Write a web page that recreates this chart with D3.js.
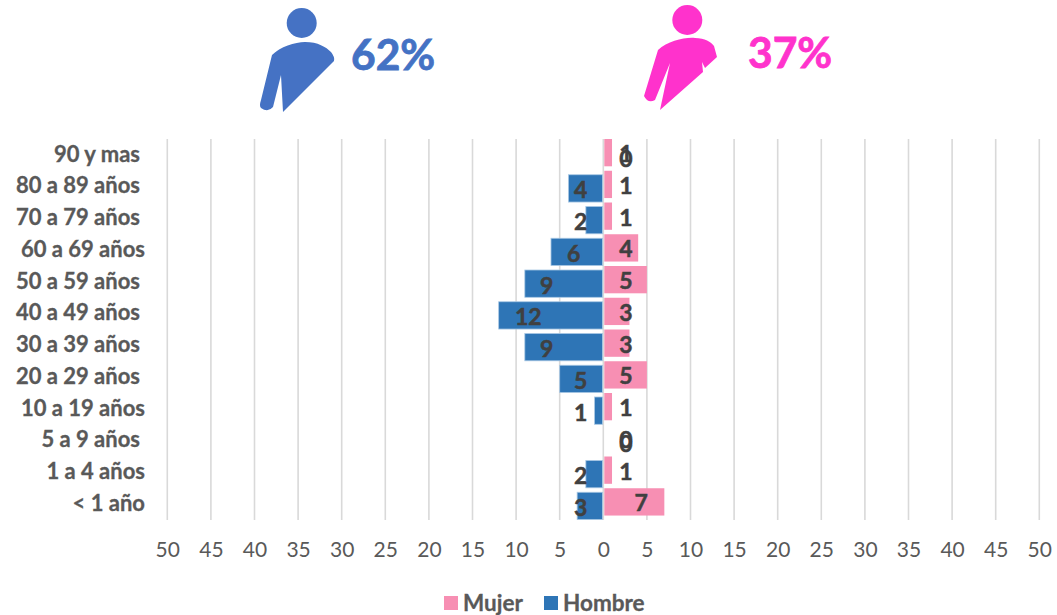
<!DOCTYPE html>
<html lang="en">
<head>
<meta charset="UTF-8">
<title>Piramide</title>
<script src="https://d3js.org/d3.v7.min.js"></script>
<style>
    html, body { margin: 0; background: #fff; }
    text { font-family: Lato, "Open Sans", sans-serif; }
</style>
</head>
<body>
<script>

// trailing space in a category = label sits further left, same as the source sheet
const categories = ['90 y mas ', '80 a 89 años ', '70 a 79 años ', '60 a 69 años', '50 a 59 años ', '40 a 49 años ',
    '30 a 39 años ', '20 a 29 años ', '10 a 19 años', '5 a 9 años ', '1 a 4 años', '< 1 año'];
const hombre = [0, 4, 2, 6, 9, 12, 9, 5, 1, 0, 2, 3];
const mujer = [1, 1, 1, 4, 5, 3, 3, 5, 1, 0, 1, 7];
const axisTicks = d3.range(-50, 51, 5);
const seriesNames = ['Mujer', 'Hombre'];
const shareHombre = '62%';
const shareMujer = '37%';

const blue = '#2e75b6', pink = '#f78fb3', inkLabel = '#404040', inkAxis = '#595959';

const svg = d3.select('body').append('svg').attr('width', 1057).attr('height', 615).style('display', 'block');

const x = d3.scaleLinear().domain([-50, 50]).range([167.3, 1039.3]);
const y = d3.scaleBand().domain(categories).range([139, 520]);
const seriesOffset = d3.scaleOrdinal().domain(seriesNames).range([0, 4]);
const barH = 27.3;

const defs = svg.append('defs');
defs.append('filter').attr('id', 'soft').append('feGaussianBlur').attr('stdDeviation', 0.6);

// gridlines
svg.append('g').selectAll('line')
    .data(axisTicks)
    .enter()
    .append('line')
    .attr('x1', d => x(d)).attr('x2', d => x(d))
    .attr('y1', 139).attr('y2', 520)
    .style('stroke', '#d9d9d9')
    .style('stroke-width', '1.6px');

// bars
const rows = categories.map((c, i) => ({ c, h: hombre[i], m: mujer[i] }));

svg.append('g').selectAll('rect')
    .data(rows.filter(d => d.h > 0))
    .enter()
    .append('rect')
    .attr('x', d => x(-d.h))
    .attr('y', d => y(d.c) + seriesOffset('Hombre'))
    .attr('width', d => x(0) - x(-d.h) - 0.8)
    .attr('height', barH)
    .style('fill', blue)
    .style('stroke', '#a9c8e4')
    .style('stroke-width', '0.8px');

svg.append('g').selectAll('rect')
    .data(rows.filter(d => d.m > 0))
    .enter()
    .append('rect')
    .attr('x', x(0) + 1)
    .attr('y', d => y(d.c) + seriesOffset('Mujer'))
    .attr('width', d => x(d.m) - x(0) - 1)
    .attr('height', barH)
    .style('fill', pink);

// data labels: small bars get a fixed spot next to the axis, the long ones were dragged by hand
const labelAnchor = new Map([[6, 3.4], [7, 4.35], [9, 6.5], [12, 8.6]]);
const anchorOf = v => labelAnchor.get(v) || 2.6;

const labels = svg.append('g')
    .style('font-size', '23px')
    .style('font-weight', 700)
    .style('fill', inkLabel)
    .style('stroke', inkLabel)
    .style('stroke-width', '0.5px')
    .attr('text-anchor', 'middle');

labels.selectAll('.lh')
    .data(rows)
    .enter()
    .append('text')
    .attr('class', 'lh')
    .attr('x', d => d.h === 0 ? x(anchorOf(0)) : x(-anchorOf(d.h)))
    .attr('y', d => y(d.c) + seriesOffset('Hombre') + barH / 2 + 10)
    .text(d => d.h);

labels.selectAll('.lm')
    .data(rows)
    .enter()
    .append('text')
    .attr('class', 'lm')
    .attr('x', d => x(anchorOf(d.m)))
    .attr('y', d => y(d.c) + seriesOffset('Mujer') + barH / 2 + 9.5)
    .text(d => d.m);

// category labels
svg.append('g').selectAll('text')
    .data(categories)
    .enter()
    .append('text')
    .attr('x', d => d.endsWith(' ') ? 140 : 145)
    .attr('y', d => y(d) + 22.5)
    .attr('text-anchor', 'end')
    .style('font-size', '22px')
    .style('font-weight', 700)
    .style('fill', inkAxis)
    .style('stroke', inkAxis)
    .style('stroke-width', '0.3px')
    .text(d => d.trim());

// bottom axis
const axis = svg.append('g')
    .attr('transform', 'translate(0,539)')
    .call(d3.axisBottom(x).tickValues(axisTicks).tickSize(0).tickFormat(d => Math.abs(d)));
axis.select('.domain').remove();
axis.selectAll('text')
    .style('font-family', 'Lato, "Open Sans", sans-serif')
    .style('font-size', '21px')
    .style('fill', inkAxis);

// legend
const legendX = d3.scaleOrdinal().domain(seriesNames).range([444, 544]);
const legend = svg.append('g').selectAll('g')
    .data(seriesNames)
    .enter()
    .append('g')
    .attr('transform', d => `translate(${legendX(d)},596)`);
legend.append('rect')
    .attr('width', 14).attr('height', 14)
    .style('fill', d => d === 'Mujer' ? pink : blue);
legend.append('text')
    .attr('x', 19).attr('y', 14.5)
    .style('font-size', '22.5px')
    .style('font-weight', 700)
    .style('fill', inkAxis)
    .style('stroke', inkAxis)
    .style('stroke-width', '0.3px')
    .text(d => d);

// person icons
const manBody = 'M272,55 C280,47 295,42 305,42 C318,42 326,47 331,52 Q335,57 334,61 L283,112 L281,75 L273,107 Q268,113 261,108 Q259,106 261,100 Z';
const womanBody = 'M658,50 C668,41 685,37 695,38 C705,38 711,42 714,46 L717,57 L705,68 L702,62 L703,72 L660,110 L670,63 L655,100 Q648,104 644,96 Z';

const blueIcon = svg.append('g').attr('filter', 'url(#soft)').style('fill', '#4472c4');
blueIcon.append('circle').attr('cx', 301.7).attr('cy', 23).attr('r', 15);
blueIcon.append('path').attr('d', manBody);

const pinkIcon = svg.append('g').attr('filter', 'url(#soft)').style('fill', '#ff33cc');
pinkIcon.append('circle').attr('cx', 687.3).attr('cy', 20).attr('r', 15);
pinkIcon.append('path').attr('d', womanBody);

svg.append('text')
    .attr('x', 351).attr('y', 70)
    .style('font-size', '42.5px').style('font-weight', 700).style('fill', '#4472c4')
    .style('stroke', '#4472c4').style('stroke-width', '0.8px')
    .text(shareHombre);
svg.append('text')
    .attr('x', 748).attr('y', 68)
    .style('font-size', '42.5px').style('font-weight', 700).style('fill', '#ff33cc')
    .style('stroke', '#ff33cc').style('stroke-width', '0.8px')
    .text(shareMujer);

</script>
</body>
</html>
